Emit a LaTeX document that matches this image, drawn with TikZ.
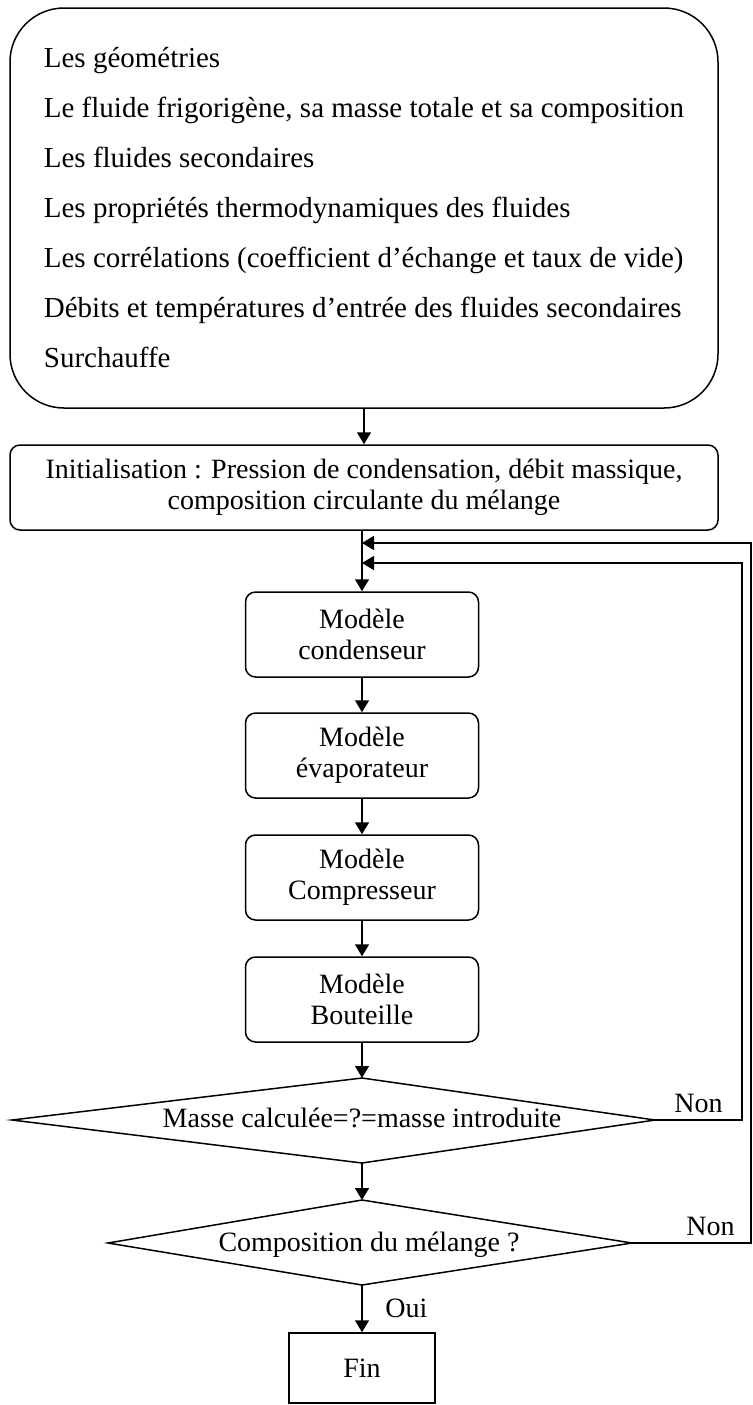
\documentclass[tikz,border=0pt]{standalone}
\usepackage{fontspec}
\setmainfont{Liberation Serif}
\usetikzlibrary{arrows.meta,positioning}

\begin{document}
\begin{tikzpicture}[x=0.5pt, y=-0.5pt, line width=0.75pt,
    every node/.style={font=\fontsize{14}{15.5}\selectfont},
    modbox/.style={draw, rounded corners=5pt, align=center, minimum width=116.5pt, minimum height=42.5pt, inner sep=0pt},
    fleche/.style={-{Triangle[length=6pt,width=7pt]}}]
  \useasboundingbox (0,0) rectangle (752,1405);

  % donnees d'entree
  \node[draw, rounded corners=27pt, align=left, minimum width=354pt, minimum height=200pt,
        font=\fontsize{14.5}{25}\selectfont] (donnees) at (364,208)
    {Les géométries\\
     Le fluide frigorigène, sa masse totale et sa composition\\
     Les fluides secondaires\\
     Les propriétés thermodynamiques des fluides\\
     Les corrélations (coefficient d’échange et taux de vide)\\
     Débits et températures d’entrée des fluides secondaires\\
     Surchauffe};
  \node[modbox, minimum width=354pt] (init) at (364,487.5)
    {Initialisation : Pression de condensation, débit massique,\\composition circulante du mélange};

  % modeles
  \node[modbox] (cond) at (362,634.5) {Modèle\\condenseur};
  \node[modbox] (evap) at (362,755.5) {Modèle\\évaporateur};
  \node[modbox] (comp) at (362,877.5) {Modèle\\Compresseur};
  \node[modbox] (bout) at (362,999.5) {Modèle\\Bouteille};

  % tests
  \draw (12,1120) coordinate (masseG) -- (362,1078) coordinate (masseH)
     -- (655,1120) coordinate (masseD) -- (362,1163) coordinate (masseB) -- cycle;
  \node (masse) at (362,1118) {Masse calculée=?=masse introduite};
  \draw (108,1243) coordinate (compoG) -- (362,1200) coordinate (compoH)
     -- (632,1243) coordinate (compoD) -- (362,1285) coordinate (compoB) -- cycle;
  \node (compo) at (369,1245) {Composition du mélange ?};
  \node[draw, minimum width=73pt, minimum height=35pt] (fin) at (362,1368) {Fin};

  \coordinate (entree1) at (362,543);
  \coordinate (entree2) at (362,563);
  \coordinate (coin1) at (742,1120);
  \coordinate (coin2) at (751,1243);

  \draw[fleche] (donnees.south -| init) -- (init);
  \draw[fleche] (init.south -| cond) -- (cond);
  \draw[fleche] (cond) -- (evap);
  \draw[fleche] (evap) -- (comp);
  \draw[fleche] (comp) -- (bout);
  \draw[fleche] (bout) -- (masseH);
  \draw[fleche] (masseB) -- (compoH);
  \draw[fleche] (compoB) -- node[right, xshift=8pt] {Oui} (fin);
  \draw[fleche] (masseD) -- node[above] {Non} (coin1) |- (entree2);
  \draw[fleche] (compoD) -- node[above, pos=0.66] {Non} (coin2) |- (entree1);
\end{tikzpicture}
\end{document}
